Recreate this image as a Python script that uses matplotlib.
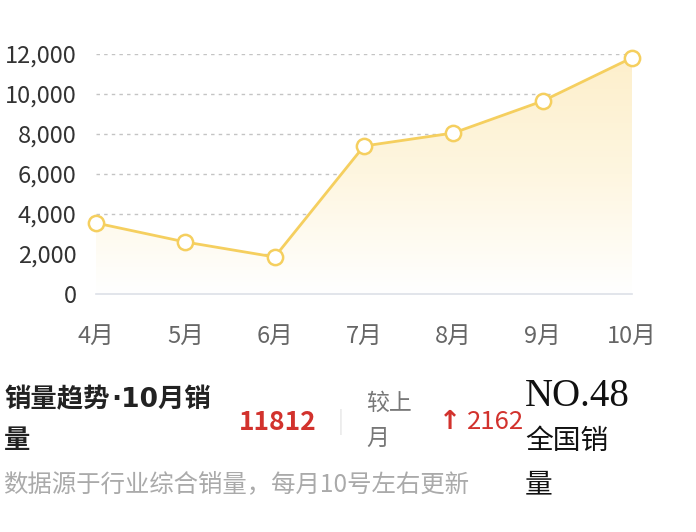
import matplotlib
matplotlib.use("Agg")
import matplotlib.pyplot as plt
import numpy as np
from matplotlib.ticker import FuncFormatter
from matplotlib.colors import LinearSegmentedColormap

plt.rcParams['font.family'] = ['Noto Sans CJK SC', 'DejaVu Sans']

months = ["4月", "5月", "6月", "7月", "8月", "9月", "10月"]
sales = [3550, 2600, 1850, 7400, 8050, 9650, 11812]
y_ticks = [0, 2000, 4000, 6000, 8000, 10000, 12000]
latest = "11812"
change = "2162"
rank = "NO.48"

W, H = 696, 532
fig = plt.figure(figsize=(W / 100, H / 100), dpi=100)
ax = fig.add_axes([96 / W, 1 - 294 / H, (632 - 96) / W, (294 - 54) / H])

x = np.arange(len(months))
line_color = "#F5CF5F"

# gradient fill under the line
poly = ax.fill_between(x, sales, 0, color="none", lw=0)
cmap = LinearSegmentedColormap.from_list("g", ["#FFFFFF", "#FEF6E0", "#FDEFCB"])
grad = np.linspace(0, 1, 256).reshape(-1, 1)
im = ax.imshow(grad, aspect="auto", cmap=cmap, origin="lower",
               extent=[0, len(months) - 1, 0, 12000], zorder=1)
path = poly.get_paths()[0]
im.set_clip_path(path, transform=ax.transData)

ax.plot(x, sales, color=line_color, lw=2, zorder=3, clip_on=False)
ax.plot(x, sales, "o", ms=11, mfc="white", mec=line_color, mew=1.8,
        zorder=4, clip_on=False)

ax.set_xlim(0, len(months) - 1)
ax.set_ylim(0, 12000)
ax.set_yticks(y_ticks)
ax.yaxis.set_major_formatter(FuncFormatter(lambda v, p: f"{int(v):,}"))
ax.set_xticks(x)
ax.set_xticklabels(months)
ax.tick_params(axis="y", length=0, pad=14, labelsize=17, labelcolor="#333333")
ax.tick_params(axis="x", length=0, pad=22, labelsize=17, labelcolor="#666666")
for s in ["top", "right", "left"]:
    ax.spines[s].set_visible(False)
ax.spines["bottom"].set_color("#DDE0E8")
ax.spines["bottom"].set_linewidth(1.2)
ax.grid(axis="y", color="#C4C4C4", ls=(0, (2.5, 3)), lw=1)
for gl in ax.get_ygridlines()[:1]:
    gl.set_visible(False)
ax.set_axisbelow(True)


def fy(py):
    return 1 - py / H


def fx(px):
    return px / W


fig.text(fx(4), fy(400), "销量趋势", fontsize=19, fontweight="bold",
         color="#222222", va="center", ha="left")
fig.text(fx(111), fy(400), "·10月销", fontsize=19, fontweight="bold",
         color="#222222", va="center", ha="left",
         family=["DejaVu Sans", "Noto Sans CJK SC"])
fig.text(fx(4), fy(441), "量", fontsize=19, fontweight="bold",
         color="#222222", va="center", ha="left")
fig.text(fx(3), fy(484), "数据源于行业综合销量，每月10号左右更新", fontsize=17.6,
         color="#AAAAAA", va="center", ha="left")
fig.text(fx(239), fy(422), latest, fontsize=19, fontweight="bold",
         color="#D2322D", va="center", ha="left")
fig.text(fx(341), fy(422), "|", fontsize=16, color="#E6E6E6",
         va="center", ha="center")
fig.text(fx(366), fy(403), "较上", fontsize=16.5, color="#777777",
         va="center", ha="left")
fig.text(fx(366), fy(438), "月", fontsize=16.5, color="#777777",
         va="center", ha="left")
fig.text(fx(450), fy(422), "↑", fontsize=19, fontweight="bold",
         color="#D2322D", va="center", ha="center", family="DejaVu Sans")
fig.text(fx(467), fy(422), change, fontsize=18.5, fontweight="medium",
         color="#D2322D", va="center", ha="left")
fig.text(fx(525), fy(397), rank, fontsize=28, color="#111111",
         va="center", ha="left", family="Liberation Serif")
fig.text(fx(525), fy(441), "全国销", fontsize=20, color="#111111",
         va="center", ha="left")
fig.text(fx(525), fy(484), "量", fontsize=20, color="#111111",
         va="center", ha="left")

fig.savefig("out.png", dpi=100)
